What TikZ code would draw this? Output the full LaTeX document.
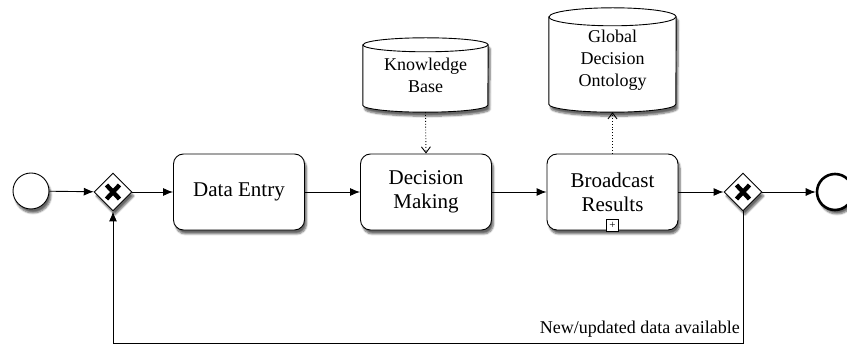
\documentclass[tikz,border=0pt]{standalone}
\usepackage{fontspec}
\setmainfont{Liberation Serif}
\usetikzlibrary{shapes.geometric,arrows.meta,shadows.blur,backgrounds}
\begin{document}
\begin{tikzpicture}[x=1pt,y=1pt,
  shd/.style={blur shadow={shadow xshift=2pt,shadow yshift=-4pt,shadow blur steps=6,shadow opacity=60}},
  task/.style={draw,line width=0.9pt,rounded corners=10pt,fill=white,minimum width=131pt,minimum height=76pt,align=center,font=\fontsize{21}{24}\selectfont,shd},
  gw/.style={draw,line width=0.9pt,diamond,aspect=1,minimum width=38pt,minimum height=38pt,inner sep=0pt,fill=white,shd},
  evt/.style={draw,circle,fill=white,minimum size=36pt,inner sep=0pt,shd},
  datatext/.style={minimum width=125pt,align=center,font=\fontsize{18}{22}\selectfont},
  flow/.style={line width=0.9pt,-{Latex[length=10pt,width=8pt]}},
  assoc/.style={line width=0.9pt,dotted,-{Straight Barb[length=6pt,width=9pt]}},
  cyl/.style={draw,line width=0.9pt,fill=white,shd}
]
\useasboundingbox (0,0) rectangle (847,348);

% events and gateways
\node[evt,line width=0.9pt] (start) at (31,157) {};
\node[gw] (g1) at (113,156) {};
\node[gw] (g2) at (743,156) {};
\node[evt,line width=2.6pt] (end) at (835,156) {};
\foreach \g in {g1,g2}{
  \draw[line width=4.4pt] ([shift={(-6.5pt,-7pt)}]\g.center) -- ([shift={(6.5pt,7pt)}]\g.center);
  \draw[line width=4.4pt] ([shift={(-6.5pt,7pt)}]\g.center) -- ([shift={(6.5pt,-7pt)}]\g.center);
}

% tasks
\node[task] (de) at (239,156) {Data Entry};
\node[task] (dm) at (426,156) {Decision\\Making};
\node[task] (br) at (612.5,156) {Broadcast\\Results};
\node[draw,fill=white,line width=0.8pt,minimum size=12pt,inner sep=0pt,font=\fontsize{11}{11}\selectfont] (plus) at (612.5,123) {+};

% data stores
\node[datatext,minimum height=74pt] (kb) at (425.5,273) {Knowledge\\Base};
\node[datatext,minimum width=127pt,minimum height=104pt] (gdo) at (612.5,288) {Global\\Decision\\Ontology};
\begin{scope}[on background layer]
\path[cyl] ([yshift=-7pt]kb.north west) -- ([yshift=7pt]kb.south west)
  arc[start angle=180,end angle=360,x radius=62.5pt,y radius=7pt]
  -- ([yshift=-7pt]kb.north east)
  arc[start angle=0,end angle=180,x radius=62.5pt,y radius=7pt] -- cycle;
\draw[line width=0.9pt] ([yshift=-7pt]kb.north west)
  arc[start angle=180,end angle=360,x radius=62.5pt,y radius=7pt];
\path[cyl] ([yshift=-9pt]gdo.north west) -- ([yshift=8pt]gdo.south west)
  arc[start angle=180,end angle=360,x radius=63.5pt,y radius=8pt]
  -- ([yshift=-9pt]gdo.north east)
  arc[start angle=0,end angle=180,x radius=63.5pt,y radius=9pt] -- cycle;
\draw[line width=0.9pt] ([yshift=-9pt]gdo.north west)
  arc[start angle=180,end angle=360,x radius=63.5pt,y radius=9pt];
\end{scope}

% flows
\draw[flow] (start) -- (g1);
\draw[flow] (g1) -- (de);
\draw[flow] (de) -- (dm);
\draw[flow] (dm) -- (br);
\draw[flow] (br) -- (g2);
\draw[flow] (g2) -- (end);
\coordinate (lb) at (743,5);
\draw[flow] (g2.south) -- (lb) -| (g1.south);
\node[anchor=base east,inner sep=0pt,font=\fontsize{18}{22}\selectfont] (lbl) at (740,14) {New/updated data available};

% associations
\draw[assoc] (kb.south) -- (dm.north);
\draw[assoc] (br.north) -- (gdo.south);
\end{tikzpicture}
\end{document}
